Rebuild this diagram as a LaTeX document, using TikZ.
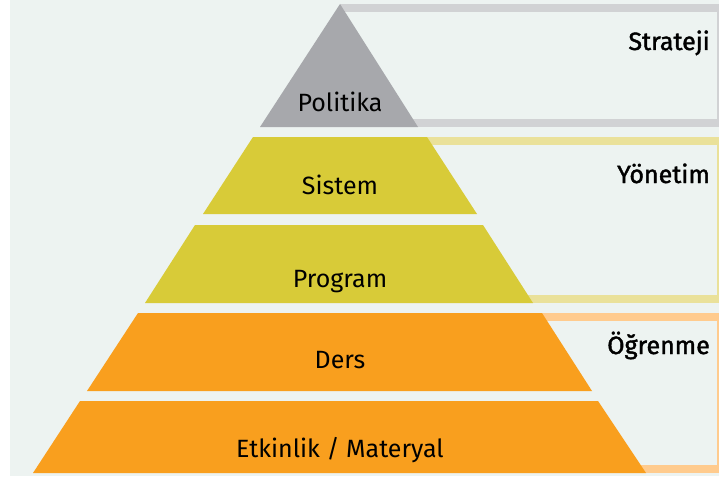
\documentclass[tikz,border=0pt]{standalone}
\usepackage{fontspec}
\setmainfont{Fira Sans}
\newfontfamily\tierfont[BoldFont={Fira Sans}, BoldFeatures={FakeBold=1.6}]{Fira Sans}
\definecolor{bgcol}{RGB}{237,243,241}
\definecolor{polgray}{RGB}{167,168,172}
\definecolor{polframe}{RGB}{209,210,212}
\definecolor{mgmtyellow}{RGB}{216,203,56}
\definecolor{mgmtframe}{RGB}{234,225,154}
\definecolor{lrnorange}{RGB}{249,159,30}
\definecolor{lrnframe}{RGB}{255,203,142}

\begin{document}
\begin{tikzpicture}[x=1pt,y=-1pt,
  frame/.style={line width=8pt},
  level/.style={font=\fontsize{25}{30}\selectfont, anchor=base, inner sep=0pt},
  tier/.style={font=\tierfont\bfseries\fontsize{25}{30}\selectfont, anchor=base east, inner sep=0pt}]
\useasboundingbox (0,0) rectangle (719,476);
\fill[bgcol] (10,0) rectangle (719,476);
% brackets behind the pyramid
\draw[frame,polframe] (340,8) -- (721,8) -- (721,123) -- (340,123);
\draw[frame,mgmtframe] (340,141) -- (721,141) -- (721,299) -- (340,299);
\draw[frame,lrnframe] (340,317) -- (721,317) -- (721,469) -- (340,469);
% pyramid
\fill[polgray] (340,4) -- (418,127) -- (260,127) -- cycle;
\fill[mgmtyellow] (253,137) -- (427,137) -- (477,214) -- (203,214) -- cycle;
\fill[mgmtyellow] (195,225) -- (483,225) -- (533,303) -- (145,303) -- cycle;
\fill[lrnorange] (138,313) -- (542,313) -- (592,391) -- (87,391) -- cycle;
\fill[lrnorange] (80,401) -- (598,401) -- (646,473) -- (33,473) -- cycle;
\node[level] (politika) at (340,111) {Politika};
\node[level] (sistem) at (340,194) {Sistem};
\node[level] (program) at (340,287) {Program};
\node[level] (ders) at (340,368) {Ders};
\node[level] (etkinlik) at (340,457) {Etkinlik / Materyal};
% tier names
\node[tier] (strateji) at (710,50) {Strateji};
\node[tier] (yonetim) at (710,183) {Yönetim};
\node[tier] (ogrenme) at (710,354) {Öğrenme};
\end{tikzpicture}
\end{document}
